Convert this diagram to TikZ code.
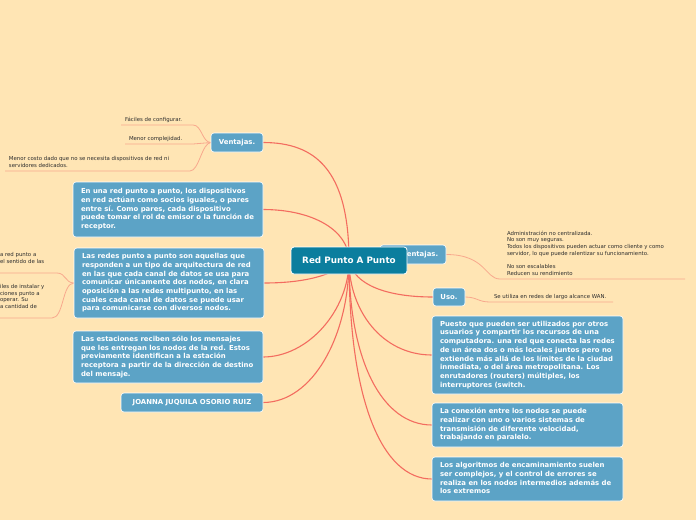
\documentclass[tikz,border=0pt]{standalone}
\usepackage{fontspec}
\setmainfont{DejaVu Sans}
\usetikzlibrary{backgrounds}
\definecolor{bgc}{HTML}{FFE5B4}
\definecolor{topicc}{HTML}{5CA3C6}
\definecolor{centralc}{HTML}{0B7E9E}
\definecolor{linkred}{HTML}{F36C5F}
\definecolor{leafline}{HTML}{F8A88D}
\definecolor{leaftext}{HTML}{2E2E2E}
\newcommand\mmtopic{\fontsize{6.9}{8.7}\selectfont\bfseries}
\newcommand\mmleaf{\fontsize{5.4}{6.7}\selectfont}
\newcommand\mmcentral{\fontsize{8.8}{10}\selectfont\bfseries}
\newcommand\mmlines[2]{\makebox[#1][l]{\begin{tabular}{@{}l@{}}#2\end{tabular}}}
\tikzset{
  topic/.style={draw=white, line width=0.6pt, fill=topicc, rounded corners=3pt, text=white,
    font=\mmtopic, anchor=north west, inner xsep=8pt, inner ysep=0pt, outer sep=0pt},
  smalltopic/.style={topic, inner xsep=0pt, minimum height=19pt},
  centraltopic/.style={draw=white, line width=0.8pt, fill=centralc, rounded corners=3pt, text=white,
    font=\mmcentral, anchor=north west, inner sep=0pt, outer sep=0pt,
    minimum width=116pt, minimum height=27pt},
  leaf/.style={anchor=south west, font=\mmleaf, text=leaftext, inner xsep=4pt, inner ysep=1.5pt, outer sep=0pt},
  conn/.style={draw=linkred, line width=1.1pt},
  leafconn/.style={draw=leafline, line width=0.8pt},
}
\begin{document}
\begin{tikzpicture}[x=1pt, y=-1pt]
\path[use as bounding box] (0,0) rectangle (696,520);
\clip (0,0) rectangle (696,520);

% left topics
\node[smalltopic, minimum width=52pt] (vent) at (211,133) {Ventajas.};
\node[topic, minimum height=55pt] (ta) at (73,182) {\mmlines{174pt}{En una red punto a punto, los dispositivos\\en red actúan como socios iguales, o pares\\entre sí. Como pares, cada dispositivo\\puede tomar el rol de emisor o la función de\\receptor.}};
\node[topic, minimum height=70pt] (tb) at (74,248) {\mmlines{174pt}{Las redes punto a punto son aquellas que\\responden a un tipo de arquitectura de red\\en las que cada canal de datos se usa para\\comunicar únicamente dos nodos, en clara\\oposición a las redes multipunto, en las\\cuales cada canal de datos se puede usar\\para comunicarse con diversos nodos.}};
\node[topic, minimum height=52pt] (tc) at (73,331) {\mmlines{174pt}{Las estaciones reciben sólo los mensajes\\que les entregan los nodos de la red. Estos\\previamente identifican a la estación\\receptora a partir de la dirección de destino\\del mensaje.}};
\node[smalltopic, minimum width=142pt] (td) at (121,393) {JOANNA JUQUILA OSORIO RUIZ};

% right topics
\node[smalltopic, minimum width=66pt] (desv) at (380,245) {Desventajas.};
\node[smalltopic, minimum width=32pt, minimum height=18pt] (uso) at (433,288) {Uso.};
\node[topic, minimum height=78pt] (te) at (432,316) {\mmlines{175pt}{Puesto que pueden ser utilizados por otros\\usuarios y compartir los recursos de una\\computadora. una red que conecta las redes\\de un área dos o más locales juntos pero no\\extiende más allá de los límites de la ciudad\\inmediata, o del área metropolitana. Los\\enrutadores (routers) múltiples, los\\interruptores (switch.}};
\node[topic, minimum height=44pt] (tf) at (432,403) {\mmlines{175pt}{La conexión entre los nodos se puede\\realizar con uno o varios sistemas de\\transmisión de diferente velocidad,\\trabajando en paralelo.}};
\node[topic, minimum height=44pt] (tg) at (432,457) {\mmlines{175pt}{Los algoritmos de encaminamiento suelen\\ser complejos, y el control de errores se\\realiza en los nodos intermedios además de\\los extremos}};

% central
\node[centraltopic] (central) at (291,247) {Red Punto A Punto};

% leaves
\node[leaf] (l1) at (121,125) {\mmlines{64pt}{Fáciles de configurar.}};
\node[leaf] (l2) at (125,144) {\mmlines{60pt}{Menor complejidad.}};
\node[leaf] (l3) at (5,171) {\mmlines{177pt}{Menor costo dado que no se necesita dispositivos de red ni\\servidores dedicados.}};
\node[leaf, inner xsep=7pt] (ld) at (500,279) {\mmlines{171pt}{Administración no centralizada.\\No son muy seguras.\\Todos los dispositivos pueden actuar como cliente y como\\servidor, lo que puede ralentizar su funcionamiento.\\ \\No son escalables\\Reducen su rendimiento}};
\node[leaf] (lu) at (490,302) {\mmlines{115pt}{Se utiliza en redes de largo alcance WAN.}};
\node[leaf, inner ysep=7.5pt] (lb1) at (-4,273) {\mmlines{53pt}{a red punto a\\el sentido de las}};
\node[leaf, inner ysep=7.5pt] (lb2) at (-4,318) {\mmlines{48pt}{iles de instalar y\\ciones punto a\\operar. Su\\a cantidad de}};

\begin{scope}[on background layer]
\fill[bgc] (0,0) rectangle (696,520);
\draw[conn] (central.center) .. controls +(0,-91) and +(52,0) .. (vent.east);
\draw[conn] (central.center) .. controls +(0,-30) and +(50,0) .. (ta.east);
\draw[conn] (central.center) .. controls +(-15,15) and +(40,0) .. (tb.east);
\draw[conn] (central.center) .. controls +(0,50) and +(45,0) .. (tc.east);
\draw[conn] (central.center) .. controls +(0,75) and +(50,0) .. (td.east);
\draw[conn] (central.center) .. controls +(10,0) and +(-10,0) .. (desv.west);
\draw[conn] (central.center) .. controls +(5,25) and +(-45,0) .. (uso.west);
\draw[conn] (central.center) .. controls +(0,50) and +(-50,0) .. (te.west);
\draw[conn] (central.center) .. controls +(0,100) and +(-50,0) .. (tf.west);
\draw[conn] (central.center) .. controls +(0,140) and +(-50,0) .. (tg.west);

\draw[leafconn] (vent.west) .. controls +(-9,0) and +(9,0) .. (l1.south east) -- (l1.south west);
\draw[leafconn] (vent.west) .. controls +(-9,0) and +(9,0) .. (l2.south east) -- (l2.south west);
\draw[leafconn] (vent.west) .. controls +(-9,0) and +(9,0) .. (l3.south east) -- (l3.south west);
\draw[leafconn] (desv.east) .. controls +(40,0) and +(-15,0) .. (ld.south west) -- (ld.south east);
\draw[leafconn] (uso.east) .. controls +(12,0) and +(-12,0) .. (lu.south west) -- (lu.south east);
\draw[leafconn] (tb.west) .. controls +(-9,0) and +(9,0) .. (lb1.south east) -- (lb1.south west);
\draw[leafconn] (tb.west) .. controls +(-12,0) and +(12,0) .. (lb2.south east) -- (lb2.south west);
\end{scope}
\end{tikzpicture}
\end{document}
